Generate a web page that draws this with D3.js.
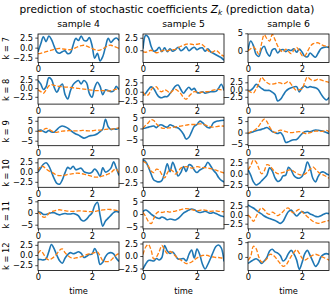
<!DOCTYPE html>
<html>
<head>
<meta charset="utf-8">
<script src="https://cdn.jsdelivr.net/npm/d3@7"></script>
<style>
  body { margin: 0; background: #fff; }
  svg { display: block; font-family: "DejaVu Sans", sans-serif; }
</style>
</head>
<body>
<svg id="chart" width="334" height="296"></svg>
<script>
var times = [0,0.1,0.2,0.3,0.4,0.5,0.6,0.7,0.8,0.9,1,1.1,1.2,1.3,1.4,1.5,1.6,1.7,1.8,1.9,2,2.1,2.2,2.3,2.4,2.5,2.6,2.7,2.8,2.9,3];
var samples = ["sample 4", "sample 5", "sample 6"];
var modes = [7, 8, 9, 10, 11, 12];
var xTicks = [0, 2];

// blue (solid) = prediction, orange (dashed) = reference; one row per sample
var predK7 = [
  [-1.0,0.9,2.7,1.5,2.9,2.0,0.3,-1.1,-1.4,-1.0,-0.8,-1.5,-1.3,0.6,2.3,1.8,2.9,1.8,1.7,2.5,0.6,-2.6,-1.4,-3.3,-2.2,0.2,2.3,1.3,2.0,2.4,1.8],
  [0.3,3.0,2.6,0.8,-0.2,0.0,0.6,-0.3,0.5,-0.3,0.3,-0.2,0.1,0.6,-0.1,0.2,0.7,-0.1,0.3,0.6,0.1,0.4,0.5,-0.2,0.3,-0.3,-0.6,-0.9,-1.2,-1.5,-2.0],
  [0.2,2.8,1.5,-1.0,-1.6,0.5,1.3,-0.5,-1.5,0.3,0.6,-0.6,0.2,0.4,-0.2,0.3,0.1,0.6,-0.4,0.5,-0.3,-1.5,-1.7,-0.6,-1.3,-1.8,-0.6,0.6,1.0,1.1,1.0]
];
var refK7 = [
  [-1.5,-1.4,-1.2,-1.0,-0.8,-0.6,-0.4,-0.3,-0.2,-0.3,-0.4,-0.5,-0.5,-0.3,0.0,0.3,0.5,0.6,0.4,0.1,-0.2,-0.5,-0.7,-0.6,-0.3,0.1,0.5,0.6,0.4,0.1,-0.2],
  [-0.3,-0.4,-0.2,0.0,-0.3,-0.5,-0.4,-0.1,0.0,-0.1,0.0,0.1,0.2,0.5,0.8,1.0,1.2,1.3,1.2,1.1,1.2,1.3,1.1,0.6,0.0,-0.4,-0.3,0.0,-0.4,-0.9,-1.2],
  [0.0,0.6,1.1,0.3,-1.0,2.0,4.6,3.5,2.8,4.7,3.2,1.4,0.2,-0.3,0.5,-0.2,-0.8,0.2,1.0,0.0,-1.3,-1.5,-0.2,1.2,2.0,2.2,2.3,1.8,1.5,1.3,1.2]
];
var predK8 = [
  [2.2,1.2,-0.4,0.4,3.0,2.5,0.2,-1.2,0.3,1.2,-1.8,-3.1,-0.8,1.0,1.8,2.2,1.2,2.2,1.5,-1.5,-2.6,0.2,1.7,0.5,-1.9,-0.5,-0.7,-1.0,-0.8,0.5,-0.4],
  [-1.0,-0.4,0.6,1.3,0.8,-0.5,-1.4,-1.6,-1.3,-1.3,-0.5,0.5,1.5,1.8,0.6,-0.4,0.5,1.2,0.5,0.9,-0.2,-0.3,0.0,-0.4,-0.2,0.0,0.0,0.1,0.9,2.0,0.3],
  [-0.3,-0.2,0.6,1.8,1.2,0.4,-0.2,-0.3,-0.3,-0.9,-1.7,-3.9,-3.4,-2.0,-0.6,0.2,0.6,0.9,1.0,-0.8,0.6,1.2,0.7,1.0,0.8,0.6,0.0,-1.5,-2.8,-3.6,-2.7]
];
var refK8 = [
  [-0.5,-1.0,-1.5,-0.5,0.6,1.0,0.8,0.6,0.5,0.4,0.3,0.3,0.2,0.1,0.0,-0.1,-0.2,-0.3,-0.4,-0.5,-0.6,-0.7,-0.7,-0.7,-0.7,-0.8,-0.8,-0.7,-0.5,-0.3,-0.2],
  [0.0,-1.0,-0.8,0.5,1.2,1.3,0.3,0.0,0.5,0.2,-0.4,0.3,0.6,0.2,-0.5,-1.5,-2.0,-1.2,-0.5,0.0,-0.1,-0.2,-0.1,0.0,0.0,0.2,0.4,0.6,0.6,0.5,0.4],
  [-0.3,-0.9,-1.2,0.2,2.0,4.2,3.3,2.4,1.9,1.9,2.0,2.4,2.3,1.9,2.3,2.8,1.8,0.5,-0.3,0.0,0.2,2.5,4.3,3.6,3.1,3.2,3.6,3.3,3.0,2.7,2.5]
];
var predK9 = [
  [0.0,0.3,-0.3,-0.8,0.1,-0.6,-0.7,0.6,1.8,2.4,2.0,1.3,0.2,-0.8,-1.6,-2.2,-3.0,-3.7,-3.3,-2.6,-2.4,-2.1,-1.5,-0.4,0.8,5.8,2.0,0.6,1.0,0.8,1.3],
  [0.0,0.2,0.6,0.9,1.1,0.4,1.5,1.6,0.9,0.6,1.7,1.2,0.6,0.2,-0.9,-2.6,-4.8,-4.0,-1.5,1.0,1.8,3.3,2.7,1.4,0.4,0.4,2.5,3.2,3.4,3.6,3.7],
  [-0.4,0.0,0.4,0.8,1.1,1.4,1.8,2.2,1.5,0.4,0.0,-0.4,0.0,-1.5,-4.3,-4.0,-3.4,-3.1,-3.0,-1.8,-0.5,0.4,0.6,0.4,0.8,1.1,1.0,0.8,0.5,0.0,-0.4]
];
var refK9 = [
  [0.0,-0.3,0.5,1.2,0.8,0.0,-0.6,-0.8,-0.5,-0.2,-0.1,0.0,0.1,0.0,-0.1,0.0,0.1,0.2,0.0,-0.1,0.0,0.2,0.3,0.3,0.5,0.7,0.8,0.8,0.9,1.2,1.5],
  [0.0,1.5,2.6,4.0,3.6,2.0,1.0,0.2,0.0,0.2,0.3,0.5,0.7,0.9,1.1,1.3,1.5,1.7,1.8,1.8,2.0,2.1,2.0,1.6,1.1,0.8,0.6,0.8,1.0,1.1,1.1],
  [-0.4,0.3,0.8,1.6,2.8,4.6,5.9,4.8,2.5,0.8,0.0,0.6,1.1,0.8,0.4,0.1,0.0,0.1,0.3,0.4,0.1,-0.3,-0.4,0.0,0.4,0.6,0.7,0.5,0.6,1.0,0.4]
];
var predK10 = [
  [0.0,1.0,2.0,2.4,1.6,0.0,-1.7,-2.9,-3.1,-2.0,-0.2,1.2,0.8,1.5,0.6,0.8,1.0,0.1,-0.2,-0.3,0.0,0.8,0.1,-1.1,1.1,0.0,0.3,1.0,2.6,1.0,-0.9],
  [2.1,1.7,0.6,-0.8,-2.0,-2.3,-2.4,-2.1,-0.6,1.3,-0.3,1.6,0.3,-1.2,-0.5,0.7,-0.3,1.1,0.9,0.0,-0.5,0.0,0.3,0.7,1.6,0.9,0.0,-0.6,-1.5,-2.1,-2.4],
  [0.9,-0.3,-1.8,-2.5,-2.2,-1.6,-1.0,-0.3,1.3,0.6,-0.9,-1.7,-1.4,-0.5,-0.3,1.4,0.8,-0.4,-0.9,-1.0,-0.6,0.6,2.6,1.3,-1.0,-1.8,-0.6,0.3,0.4,0.0,-0.3]
];
var refK10 = [
  [0.3,1.5,1.4,0.8,0.3,0.0,-0.4,-0.8,-0.9,-0.9,-0.8,-0.6,-0.5,-0.4,-0.3,-0.3,-0.4,-0.5,-0.7,-0.9,-1.1,-1.3,-1.3,-1.2,-1.0,-0.8,-0.5,-0.2,0.5,0.8,-0.4],
  [1.8,1.5,0.8,-0.2,-0.5,0.2,0.0,-0.9,-1.6,-0.6,0.1,-0.2,-0.8,-0.3,0.4,0.6,0.7,0.6,0.4,0.5,0.7,0.6,0.5,0.5,0.4,0.3,0.2,0.0,-0.2,-0.4,-0.6],
  [0.9,1.8,3.0,2.6,1.2,0.0,0.6,2.0,1.8,1.1,0.4,0.0,0.1,0.3,0.5,0.8,0.9,0.5,0.1,-0.2,-0.3,-0.1,0.4,1.0,1.5,1.0,0.4,-0.1,-0.3,-0.6,-1.0]
];
var predK11 = [
  [0.6,0.2,-0.6,-0.6,-0.2,0.1,0.1,-0.4,-0.8,-0.4,-0.2,-0.4,-0.4,-0.2,-0.5,-1.2,-2.9,-3.4,-2.6,-1.2,0.0,3.2,4.6,-1.0,-5.6,-3.4,-2.2,-1.0,0.2,0.7,0.3],
  [1.0,1.6,1.0,0.0,-0.8,-1.5,-1.8,-1.2,-1.6,-2.3,-2.0,-2.2,-2.4,-1.8,-0.8,0.4,1.0,1.6,2.0,1.7,1.0,0.6,0.8,1.1,0.7,0.3,0.6,0.2,-0.3,-0.8,-1.1],
  [2.9,2.4,2.0,1.4,0.8,0.3,-0.3,-0.7,-1.0,-1.3,-1.6,-2.0,-2.4,-1.8,-0.3,1.0,1.4,0.5,-0.3,0.4,1.0,0.6,0.8,0.3,0.0,-0.4,-0.5,-0.2,0.2,0.5,0.4]
];
var refK11 = [
  [0.6,-0.6,-1.8,-1.6,-0.2,0.6,0.9,1.2,1.4,1.2,1.0,0.8,0.7,0.7,0.8,0.9,0.9,0.8,0.7,0.6,0.6,0.7,0.9,1.1,1.3,1.5,1.6,1.5,1.3,1.1,0.9],
  [0.7,-1.0,-3.0,-3.9,-1.8,0.3,1.0,0.6,0.9,1.0,0.8,1.0,1.2,1.5,1.8,2.0,2.2,2.1,1.8,1.5,1.4,1.5,1.7,1.6,1.3,1.1,1.2,1.3,1.1,1.0,1.0],
  [0.0,-0.8,-1.8,-0.5,1.2,2.0,1.5,0.5,0.2,0.8,0.4,-0.2,0.3,1.0,1.8,2.0,1.0,0.6,1.2,1.6,0.9,0.2,-0.5,-1.2,-1.8,-2.2,-2.4,-2.2,-2.0,-1.8,-1.6]
];
var predK12 = [
  [-1.1,-1.1,-1.2,-0.9,0.8,2.6,1.5,-0.1,-1.4,-2.0,-0.8,0.1,0.6,0.3,0.5,0.8,0.4,-0.6,-0.3,0.1,0.2,1.6,0.3,-2.3,-1.8,-0.4,0.4,0.6,0.3,-0.8,-1.6],
  [-2.6,-1.6,-0.9,-0.9,-1.0,-0.5,-0.8,-0.3,2.1,1.0,0.5,0.8,0.1,-0.6,-0.6,-0.5,-1.0,0.3,1.2,-0.4,1.4,0.3,-1.6,-2.6,-1.7,-0.5,0.8,1.9,2.2,1.6,-1.1],
  [-2.2,-1.6,-1.0,-0.6,-1.2,-2.2,-1.4,-0.2,2.0,2.6,1.7,1.3,0.4,-1.4,-0.6,1.2,2.2,1.0,-1.0,-4.2,-2.0,1.0,2.2,0.5,-1.5,-3.2,-2.2,0.0,0.8,1.1,0.9]
];
var refK12 = [
  [0.4,1.1,0.3,-0.8,-1.2,-0.9,-0.4,0.3,1.2,1.5,0.6,-0.1,-0.6,-0.8,-0.7,-0.6,-0.4,-0.2,0.1,0.3,0.4,0.6,0.8,-0.2,-1.4,-1.6,-1.6,-1.3,-0.6,0.0,0.4],
  [0.3,1.8,2.3,1.2,-0.6,-0.2,0.9,2.1,1.2,0.5,0.9,0.6,0.0,-0.5,-0.8,-1.2,-1.5,-1.4,-1.2,-0.8,-0.4,-0.1,0.1,0.2,0.1,-0.1,-0.2,-0.3,-0.3,-0.4,-0.5],
  [-1.2,0.2,3.6,2.8,0.0,-1.7,-1.5,-0.6,0.8,0.8,0.0,-1.2,-2.3,-3.2,-2.8,-1.4,0.2,1.5,2.4,1.2,-0.4,-1.1,-0.6,0.0,0.6,0.9,0.6,0.2,-0.2,-0.6,-1.1]
];

// y limits and y ticks per row (k = 7 .. 12), one entry per sample
var yLimits = [
  [[-3.7, 3.4], [-2.45, 3.25], [-3.3, 4.8]],
  [[-4.6, 3.6], [-3.3, 4.3], [-5.0, 4.8]],
  [[-7.5, 6.8], [-7.8, 5.1], [-5.7, 6.7]],
  [[-3.9, 3.4], [-3.5, 2.3], [-3.0, 3.3]],
  [[-6.8, 5.4], [-6.0, 5.5], [-4.0, 4.2]],
  [[-3.8, 3.2], [-2.9, 2.8], [-4.6, 5.05]]
];
var yTicks = [
  [[-2.5, 0, 2.5], [0, 2.5], [0, 5]],
  [[-2.5, 0, 2.5], [-2.5, 0, 2.5], [-2.5, 0, 2.5]],
  [[-5, 0, 5], [-5, 0, 5], [-5, 0, 5]],
  [[-2.5, 0, 2.5], [-2.5, 0], [-2.5, 0, 2.5]],
  [[-5, 0, 5], [-5, 0, 5], [-2.5, 0, 2.5]],
  [[-2.5, 0, 2.5], [-2.5, 0, 2.5], [0, 5]]
];

var predRows = [predK7, predK8, predK9, predK10, predK11, predK12];
var refRows = [refK7, refK8, refK9, refK10, refK11, refK12];

var svg = d3.select("#chart");
var colLeft = [38, 143, 248];
var panelW = 81, panelH = 28.5;
var rowTop0 = 34, rowStep = 41.6;
var fontSize = 8.3;

var x = d3.scaleLinear().domain([0, 3]).range([0, panelW]);

function fmtTick(ticks) {
  var dec = ticks.some(function(t) { return t % 1 !== 0; });
  var f = d3.format(dec ? ".1f" : "d");
  return function(d) { return f(d).replace("-", "\u2212"); };
}

modes.forEach(function(k, r) {
  var top = rowTop0 + r * rowStep;
  samples.forEach(function(s, c) {
    var g = svg.append("g")
      .attr("transform", "translate(" + colLeft[c] + "," + top + ")");

    var y = d3.scaleLinear().domain(yLimits[r][c]).range([panelH, 0]);

    var clipId = "clip-" + r + "-" + c;
    g.append("clipPath").attr("id", clipId)
      .append("rect").attr("width", panelW).attr("height", panelH);

    var line = d3.line()
      .x(function(d, i) { return x(times[i]); })
      .y(function(d) { return y(d); })
      .curve(d3.curveCatmullRom.alpha(0.5));

    var plot = g.append("g").attr("clip-path", "url(#" + clipId + ")");
    plot.append("path")
      .datum(predRows[r][c])
      .attr("fill", "none")
      .attr("stroke", "#1f77b4")
      .attr("stroke-width", 1.6)
      .attr("stroke-linejoin", "round")
      .attr("d", line);
    plot.append("path")
      .datum(refRows[r][c])
      .attr("fill", "none")
      .attr("stroke", "#ff7f0e")
      .attr("stroke-width", 1.3)
      .attr("stroke-dasharray", "4.3,1.9")
      .attr("d", line);

    var yAxis = g.append("g")
      .call(d3.axisLeft(y).tickValues(yTicks[r][c]).tickSize(2.7).tickPadding(2.2)
        .tickFormat(fmtTick(yTicks[r][c])));
    var xAxis = g.append("g")
      .attr("transform", "translate(0," + panelH + ")")
      .call(d3.axisBottom(x).tickValues(xTicks).tickSize(2.7).tickPadding(1.3)
        .tickFormat(d3.format("d")));

    [yAxis, xAxis].forEach(function(a) {
      a.attr("font-family", "DejaVu Sans").attr("font-size", fontSize);
      a.select(".domain").remove();
      a.selectAll("line").attr("stroke", "#000").attr("stroke-width", 0.7);
      a.selectAll("text").attr("fill", "#000");
    });

    g.append("rect")
      .attr("width", panelW).attr("height", panelH)
      .attr("fill", "none").attr("stroke", "#000").attr("stroke-width", 0.8);

    if (r === 0) {
      svg.append("text")
        .attr("x", colLeft[c] + panelW / 2).attr("y", top - 7.2)
        .attr("text-anchor", "middle").attr("font-size", 9.3)
        .text(s);
    }
    if (r === modes.length - 1) {
      svg.append("text")
        .attr("x", colLeft[c] + panelW / 2).attr("y", 294)
        .attr("text-anchor", "middle").attr("font-size", fontSize)
        .text("time");
    }
  });

  svg.append("text")
    .attr("transform", "translate(9," + (top + panelH / 2) + ") rotate(-90)")
    .attr("text-anchor", "middle").attr("font-size", fontSize)
    .text("k = " + k);
});

var title = svg.append("text")
  .attr("x", 167).attr("y", 13)
  .attr("text-anchor", "middle").attr("font-size", 10.6);
title.append("tspan").text("prediction of stochastic coefficients ");
title.append("tspan").attr("font-style", "italic").text("Z");
title.append("tspan").attr("font-style", "italic").attr("font-size", 7.4).attr("dy", 2.2).text("k");
title.append("tspan").attr("dy", -2.2).text(" (prediction data)");
</script>
</body>
</html>
